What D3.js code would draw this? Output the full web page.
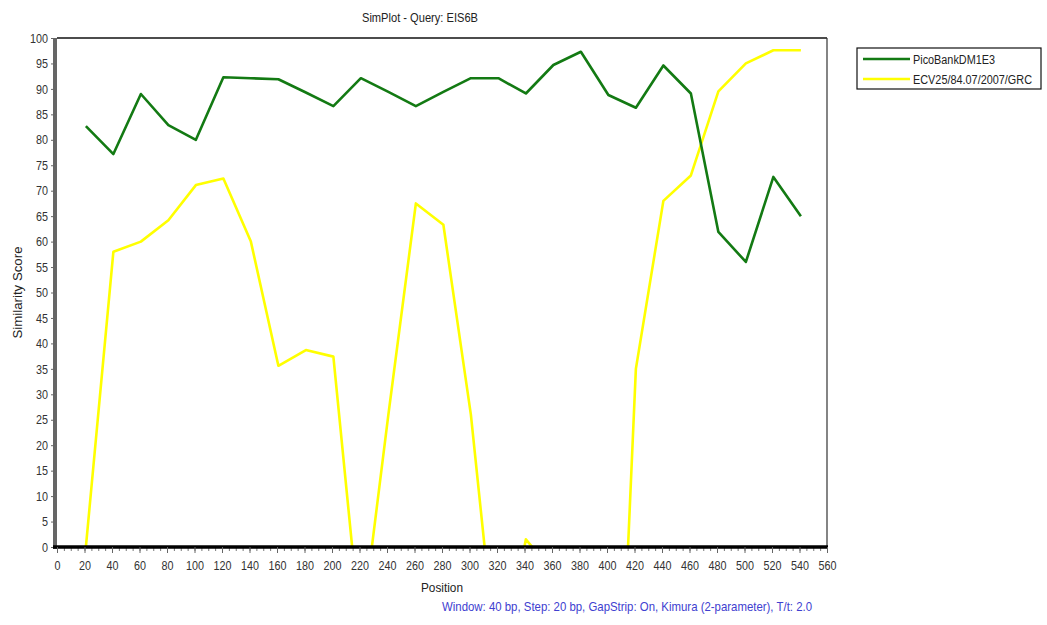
<!DOCTYPE html>
<html>
<head>
<meta charset="utf-8">
<script src="https://cdn.jsdelivr.net/npm/d3@7"></script>
<style>
  html, body { margin: 0; padding: 0; background: #fff; }
  svg { display: block; }
  text { font-family: "Liberation Sans", Arial, sans-serif; }
</style>
</head>
<body>
<div id="chart"></div>
<script>
// ---- data ----
const positions = [21, 41, 61, 81, 101, 121, 141, 161, 181, 201, 221, 241, 261, 281, 301, 321, 341, 361, 381, 401, 421, 441, 461, 481, 501, 521, 541];
const picoBank = [82.7, 77.2, 89.0, 82.9, 80.0, 92.3, 92.1, 91.9, 89.3, 86.6, 92.1, 89.4, 86.6, 89.4, 92.1, 92.1, 89.1, 94.7, 97.3, 88.8, 86.3, 94.6, 89.1, 61.9, 56.0, 72.7, 65.0];
const ecv = [0, 58.0, 60.0, 64.2, 71.1, 72.4, 60.0, 35.6, 38.7, 37.4, -17.3, 26.0, 67.5, 63.3, 26.0, -26.0, 1.5, -5, -40, -88, 35.0, 68.0, 73.0, 89.5, 95.0, 97.6, 97.6];
const seriesNames = ["PicoBankDM1E3", "ECV25/84.07/2007/GRC"];
const seriesColors = ["#137a13", "#ffff00"];
const xTicks = d3.range(0, 561, 20);
const yTicks = d3.range(0, 101, 5);
const titleText = "SimPlot - Query: EIS6B";
const xLabel = "Position";
const yLabel = "Similarity Score";
const footer = "Window: 40 bp, Step: 20 bp, GapStrip: On, Kimura (2-parameter), T/t: 2.0";

// ---- layout ----
const W = 1047, H = 625;
const L = 57, R = 827, T = 38, B = 547;

const svg = d3.select("#chart").append("svg").attr("width", W).attr("height", H);

const x = d3.scaleLinear().domain([0, 560]).range([L, R]);
const y = d3.scaleLinear().domain([0, 100]).range([B, T]);

function narrow(sel, perChar) {
  sel.each(function () {
    const t = d3.select(this);
    const s = t.text();
    t.attr("textLength", s.length * perChar).attr("lengthAdjust", "spacingAndGlyphs");
  });
}

svg.append("defs").append("clipPath").attr("id", "plotclip")
  .append("rect").attr("x", L).attr("y", T).attr("width", R - L).attr("height", B - T);

// frame (top & right)
svg.append("line").attr("x1", L).attr("x2", R).attr("y1", T).attr("y2", T)
  .attr("stroke", "#111").attr("stroke-width", 1.5);
svg.append("line").attr("x1", R).attr("x2", R).attr("y1", T).attr("y2", B)
  .attr("stroke", "#333").attr("stroke-width", 1.2);

// lines
const series = [picoBank, ecv];
const line = d3.line().x((d, i) => x(positions[i])).y(d => y(d));
const g = svg.append("g").attr("clip-path", "url(#plotclip)");
[1, 0].forEach(k => {
  g.append("path").datum(series[k])
    .attr("fill", "none")
    .attr("stroke", seriesColors[k])
    .attr("stroke-width", 2.6)
    .attr("stroke-linejoin", "round")
    .attr("d", line);
});

// y axis
const yAxis = d3.axisLeft(y).tickValues(yTicks).tickSize(4).tickPadding(3);
const ya = svg.append("g").attr("transform", `translate(${L - 2},0)`).call(yAxis);
ya.select(".domain").attr("stroke", "#666").attr("stroke-width", 4).attr("d", `M0,${T}V${B + 2}`);
ya.selectAll(".tick line").attr("stroke", "#666");
ya.selectAll("text").attr("font-size", 13).attr("fill", "#333")
  .style("font-family", '"Liberation Sans", Arial, sans-serif').call(narrow, 6);

// x axis minor ticks
const xa = svg.append("g").attr("transform", `translate(0,${B})`);
xa.append("g").call(d3.axisBottom(x).tickValues(d3.range(0, 561, 5)).tickSize(4).tickFormat(""))
  .call(s => s.select(".domain").remove())
  .selectAll(".tick line").attr("stroke", "#777");
const xAxis = d3.axisBottom(x).tickValues(xTicks).tickSize(6).tickPadding(8);
const xm = xa.append("g").call(xAxis);
xm.select(".domain").attr("stroke", "#000").attr("stroke-width", 3.5).attr("d", `M${L - 4},0H${R + 1}`);
xm.selectAll(".tick line").attr("stroke", "#666");
xm.selectAll("text").attr("font-size", 13).attr("fill", "#333")
  .style("font-family", '"Liberation Sans", Arial, sans-serif').call(narrow, 6);

// titles
svg.append("text").attr("x", 420).attr("y", 22).attr("text-anchor", "middle")
  .attr("font-size", 13).attr("fill", "#222").text(titleText)
  .attr("textLength", 116).attr("lengthAdjust", "spacingAndGlyphs");
svg.append("text").attr("x", 442).attr("y", 592).attr("text-anchor", "middle")
  .attr("font-size", 13).attr("fill", "#222").text(xLabel)
  .attr("textLength", 42).attr("lengthAdjust", "spacingAndGlyphs");
svg.append("text").attr("transform", `translate(22,${(T + B) / 2}) rotate(-90)`)
  .attr("text-anchor", "middle").attr("font-size", 13).attr("fill", "#222").text(yLabel)
  .attr("textLength", 92).attr("lengthAdjust", "spacingAndGlyphs");
svg.append("text").attr("x", 442).attr("y", 611).attr("text-anchor", "start")
  .attr("font-size", 13).attr("fill", "#4040d0").text(footer)
  .attr("textLength", 370).attr("lengthAdjust", "spacingAndGlyphs");

// legend
const lg = svg.append("g");
lg.append("rect").attr("x", 857).attr("y", 48).attr("width", 184).attr("height", 41)
  .attr("fill", "#fff").attr("stroke", "#111").attr("stroke-width", 1.2);
const legendWidths = [82, 119];
seriesNames.forEach((n, i) => {
  const yy = 59 + i * 20;
  lg.append("line").attr("x1", 863).attr("x2", 910).attr("y1", yy).attr("y2", yy)
    .attr("stroke", seriesColors[i]).attr("stroke-width", 2.6);
  lg.append("text").attr("x", 913).attr("y", yy + 4.5).attr("font-size", 12).attr("fill", "#222").text(n)
    .attr("textLength", legendWidths[i]).attr("lengthAdjust", "spacingAndGlyphs");
});
</script>
</body>
</html>
